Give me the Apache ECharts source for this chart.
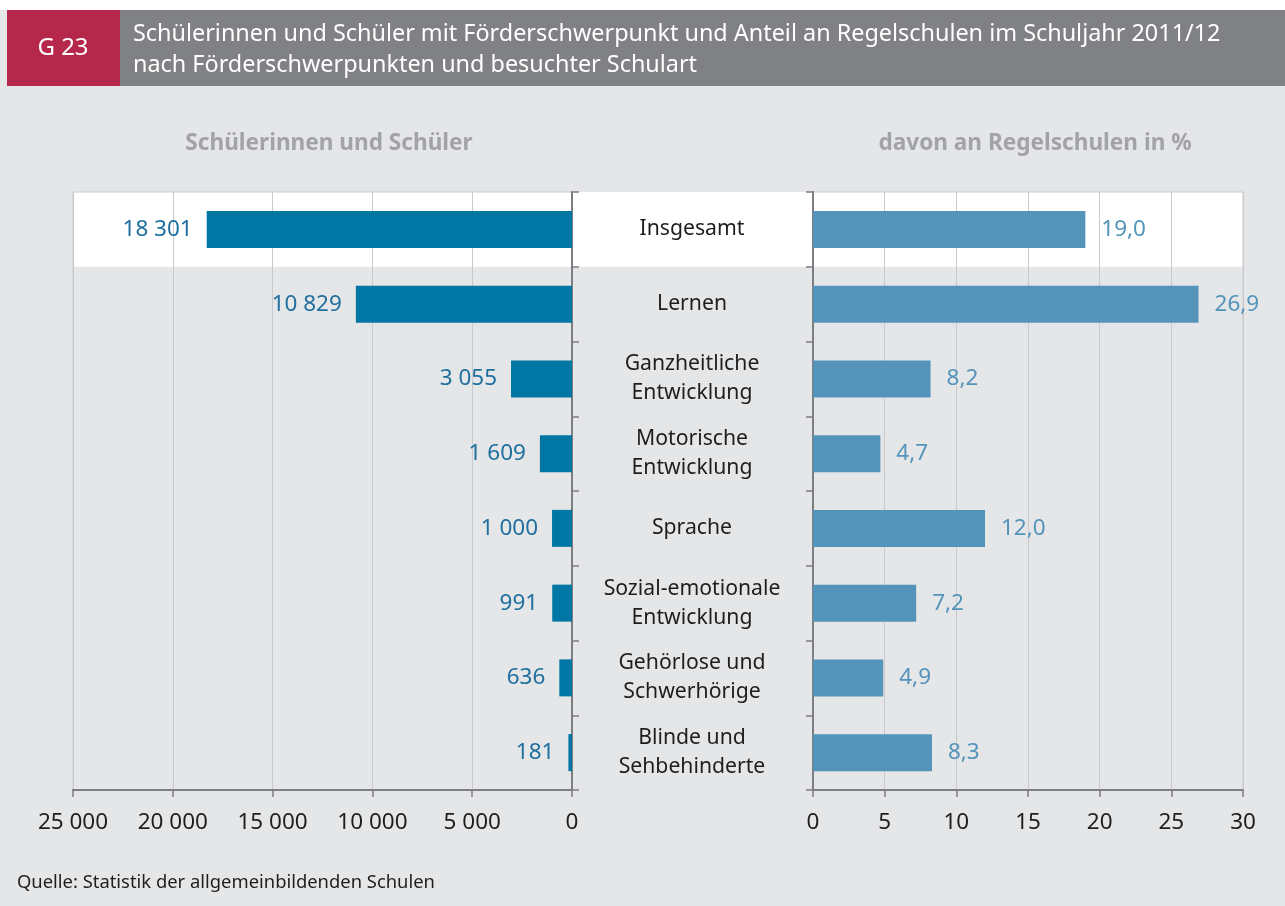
<!DOCTYPE html>
<html>
<head>
<meta charset="utf-8">
<script src="https://cdn.jsdelivr.net/npm/echarts@6/dist/echarts.min.js"></script>
<style>
  html, body {margin: 0; padding: 0; background: #fff}
  #chart {width: 1285px; height: 906px}
</style>
</head>
<body>
<div id="chart"></div>
<script>
// Daten
const categories = [
    'Insgesamt',
    'Lernen',
    'Ganzheitliche\nEntwicklung',
    'Motorische\nEntwicklung',
    'Sprache',
    'Sozial-emotionale\nEntwicklung',
    'Gehörlose und\nSchwerhörige',
    'Blinde und\nSehbehinderte'
]
const pupils = [18301, 10829, 3055, 1609, 1000, 991, 636, 181]
const shareRegular = [19.0, 26.9, 8.2, 4.7, 12.0, 7.2, 4.9, 8.3]
const pupilTicks = [0, 5000, 10000, 15000, 20000, 25000]
const shareTicks = [0, 5, 10, 15, 20, 25, 30]

const FONT = '"Noto Sans", "Open Sans", sans-serif'
const DARK_BLUE = '#0076a5'
const LIGHT_BLUE = '#5494bb'
const GRID_LINE = '#c9cacd'
const AXIS_LINE = '#7d7e81'
const TEXT = '#1e1e1e'

function fmtThousands(v) {
    return String(v).replace(/\B(?=(\d{3})+(?!\d))/g, ' ')
}

function fmtComma(v) {
    return v.toFixed(1).replace('.', ',')
}

let chart = echarts.init(document.getElementById('chart'))

let gridTop = 192, gridBottom = 116

chart.setOption({
    backgroundColor: '#e5e6e8',
    textStyle: {fontFamily: FONT},
    graphic: [
        {type: 'rect', shape: {x: 0, y: 0, width: 1285, height: 10}, style: {fill: '#fff'}, silent: true},
        {type: 'rect', shape: {x: 7, y: 10, width: 113, height: 76}, style: {fill: '#b6284b'}, silent: true},
        {type: 'rect', shape: {x: 120, y: 10, width: 1165, height: 76}, style: {fill: '#808185'}, silent: true},
        {
            type: 'text', x: 63, y: 48, silent: true,
            style: {text: 'G 23', fill: '#fff', font: '24px ' + FONT, align: 'center', verticalAlign: 'middle'}
        },
        {
            type: 'text', x: 133, y: 19, silent: true,
            style: {
                text: 'Schülerinnen und Schüler mit Förderschwerpunkt und Anteil an Regelschulen im Schuljahr 2011/12\nnach Förderschwerpunkten und besuchter Schulart',
                fill: '#fff', font: '23.4px ' + FONT, lineHeight: 31
            }
        },
        {
            type: 'text', x: 329, y: 144, silent: true,
            style: {text: 'Schülerinnen und Schüler', fill: '#a2a3a6', font: 'bold 22.6px ' + FONT, align: 'center', verticalAlign: 'middle'}
        },
        {
            type: 'text', x: 1035, y: 144, silent: true,
            style: {text: 'davon an Regelschulen in %', fill: '#a2a3a6', font: 'bold 22.6px ' + FONT, align: 'center', verticalAlign: 'middle'}
        },
        {
            type: 'text', x: 17, y: 874, silent: true,
            style: {text: 'Quelle: Statistik der allgemeinbildenden Schulen', fill: TEXT, font: '18.4px ' + FONT}
        }
    ],
    grid: [
        // Hintergrund fuer die hervorgehobene Zeile
        {left: 73, right: 42, top: gridTop, bottom: gridBottom, show: false},
        {left: 73, right: 713, top: gridTop, bottom: gridBottom, show: true, borderColor: GRID_LINE, borderWidth: 1, backgroundColor: 'transparent'},
        {left: 813, right: 42, top: gridTop, bottom: gridBottom, show: true, borderColor: GRID_LINE, borderWidth: 1, backgroundColor: 'transparent'}
    ],
    xAxis: [
        {gridIndex: 0, type: 'value', show: false},
        {
            gridIndex: 1, type: 'value', inverse: true, min: 0, max: pupilTicks[pupilTicks.length - 1], interval: 5000, z: 1,
            axisLine: {show: true, lineStyle: {color: AXIS_LINE, width: 2}},
            axisTick: {show: true, length: 7, lineStyle: {color: AXIS_LINE, width: 1.5}},
            axisLabel: {color: TEXT, fontSize: 22.5, margin: 21, formatter: fmtThousands},
            splitLine: {show: true, lineStyle: {color: GRID_LINE, width: 1}}
        },
        {
            gridIndex: 2, type: 'value', min: 0, max: shareTicks[shareTicks.length - 1], interval: 5, z: 1,
            axisLine: {show: true, lineStyle: {color: AXIS_LINE, width: 2}},
            axisTick: {show: true, length: 7, lineStyle: {color: AXIS_LINE, width: 1.5}},
            axisLabel: {color: TEXT, fontSize: 22.5, margin: 21},
            splitLine: {show: true, lineStyle: {color: GRID_LINE, width: 1}}
        }
    ],
    yAxis: [
        {
            gridIndex: 0, type: 'category', data: categories, inverse: true, z: -1,
            axisLine: {show: false}, axisTick: {show: false}, axisLabel: {show: false},
            splitArea: {
                show: true,
                areaStyle: {color: categories.map((c, i) => i === 0 ? '#ffffff' : 'rgba(0,0,0,0)')}
            }
        },
        {
            gridIndex: 1, type: 'category', data: categories, inverse: true, position: 'right', z: 1,
            axisLine: {show: true, lineStyle: {color: AXIS_LINE, width: 2}},
            axisTick: {show: true, length: 7, lineStyle: {color: AXIS_LINE, width: 1.5}},
            axisLabel: {
                color: TEXT, fontSize: 21.2, lineHeight: 29, align: 'center', margin: 120,
                padding: [4, 0, 0, 0]
            }
        },
        {
            gridIndex: 2, type: 'category', data: categories, inverse: true, position: 'left', z: 1,
            axisLine: {show: true, lineStyle: {color: AXIS_LINE, width: 2}},
            axisTick: {show: true, length: 7, lineStyle: {color: AXIS_LINE, width: 1.5}},
            axisLabel: {show: false}
        }
    ],
    series: [
        {
            type: 'bar', xAxisIndex: 1, yAxisIndex: 1, data: pupils, barWidth: 37,
            itemStyle: {color: DARK_BLUE},
            label: {
                show: true, position: 'left', distance: 14, color: '#1f6f9f', fontSize: 22.5,
                formatter: p => fmtThousands(p.value)
            }
        },
        {
            type: 'bar', xAxisIndex: 2, yAxisIndex: 2, data: shareRegular, barWidth: 37,
            itemStyle: {color: LIGHT_BLUE},
            label: {
                show: true, position: 'right', distance: 16, color: LIGHT_BLUE, fontSize: 22.5,
                formatter: p => fmtComma(p.value)
            }
        }
    ]
})
</script>
</body>
</html>
